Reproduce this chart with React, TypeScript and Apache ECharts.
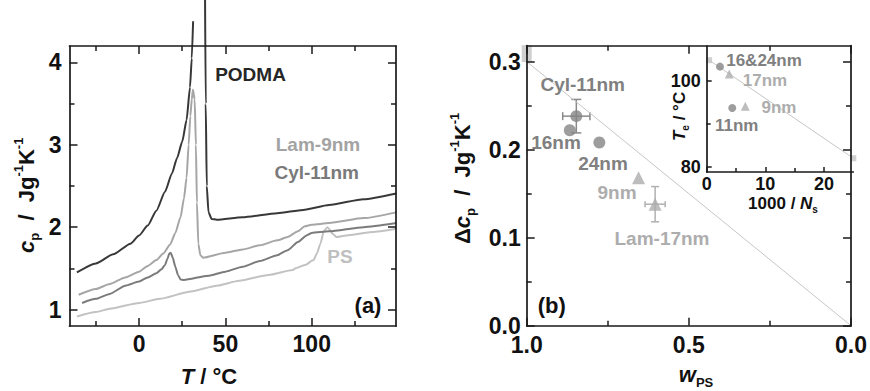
import React, { useEffect, useRef } from "react";
import * as echarts from "echarts";

// (a) DSC traces: [T / °C, cp / J g^-1 K^-1]
const podmaRise = [
  [-36, 1.45], [-25, 1.56], [-15, 1.67], [-5, 1.8], [0, 1.9], [5, 2.02], [10, 2.2],
  [15, 2.43], [19, 2.65], [22, 2.84], [25, 3.04], [27.5, 3.3], [29.5, 3.7], [30.5, 4.05], [31.3, 4.5],
];
const podmaDrop = [
  [38.2, 4.8], [38.6, 3.5], [39.2, 2.5], [40.2, 2.18], [42, 2.1], [45, 2.09], [60, 2.12],
  [80, 2.17], [95, 2.21], [110, 2.27], [130, 2.34], [149, 2.41],
];
const lam9Trace = [
  [-35, 1.18], [-25, 1.25], [-17, 1.31], [-8, 1.39], [0, 1.46], [5, 1.53], [10, 1.6], [14, 1.68],
  [18, 1.79], [21, 1.93], [24, 2.12], [26, 2.35], [27.5, 2.6], [28.7, 3.0], [29.7, 3.35], [30.5, 3.55],
  [31.2, 3.67], [32.2, 3.55], [32.9, 3.0], [33.5, 2.3], [34.3, 1.8], [35.5, 1.66], [37, 1.63],
  [50, 1.69], [60, 1.73], [70, 1.78], [80, 1.84], [86, 1.88], [92, 1.95], [96, 2.01], [100, 2.03],
  [110, 2.05], [130, 2.11], [149, 2.18],
];
const cyl11Trace = [
  [-33, 1.08], [-25, 1.13], [-17, 1.19], [-8, 1.29], [0, 1.34], [5, 1.39], [10, 1.44], [13, 1.49],
  [15, 1.54], [16.5, 1.62], [17.5, 1.68], [18.3, 1.69], [19.5, 1.63], [21, 1.52], [22.5, 1.42],
  [24, 1.365], [26, 1.36], [40, 1.41], [50, 1.46], [60, 1.52], [70, 1.59], [80, 1.66], [86, 1.72],
  [92, 1.82], [97, 1.9], [100, 1.93], [110, 1.95], [130, 2.0], [149, 2.05],
];
const psTrace = [
  [-36, 0.915], [-25, 0.97], [-17, 1.01], [0, 1.08], [12, 1.13], [30, 1.22], [45, 1.29], [58, 1.35],
  [75, 1.42], [89, 1.48], [90.5, 1.5], [96, 1.54], [101, 1.6], [103, 1.68], [105, 1.8], [107, 1.95],
  [109, 2.0], [110.5, 1.97], [112, 1.92], [114.5, 1.88], [120, 1.9], [135, 1.94], [149, 1.98],
];

// (b) Δcp against PS weight fraction
const psBulk = [[1.0, 0.309]];
const cylPoints = [[0.847, 0.238], [0.867, 0.222], [0.776, 0.208]];
const lamPoints = [[0.655, 0.168], [0.604, 0.138]];
const additivityLine = [[1, 0.3], [0, 0]];
// [w, Δcp, ±w, ±Δcp]
const cylErrors = [[0.847, 0.238, 0.042, 0.019]];
const lamErrors = [[0.604, 0.138, 0.031, 0.02]];

// inset: Tg against 1000 / Ns
const insetSquares = [[0.4, 104.8], [25, 82]];
const insetCircles = [[2.27, 103.3], [4.36, 93.7]];
const insetTriangles = [[3.85, 101.6], [6.58, 94.1]];
const insetFit = [[0, 105.2], [25, 82]];

// tick positions
const tempTicks = [0, 50, 100];
const tempMinor = [-25, 25, 75, 125];
const cpTicks = [1, 2, 3, 4];
const cpMinor = [1.5, 2.5, 3.5];
const wTicks = [1, 0.5, 0];
const wMinor = [0.75, 0.25];
const dcpTicks = [0, 0.1, 0.2, 0.3];
const dcpMinor = [0.05, 0.15, 0.25];
const nsTicks = [0, 10, 20];
const nsMinor = [5, 15];
const tgTicks = [80, 100];
const tgMinor = [90];

const FONT = "'Liberation Sans', Arial, Helvetica, sans-serif";
const AXIS = "#1a1a1a";
const DARK = "#383838";
const MID = "#7b7b7b";
const LIGHT = "#a6a6a6";
const PALE = "#c2c2c2";
const NB = "\u00A0";

type AxisCfg = {
  inverse?: boolean;
  fmt?: (v: number) => string;
  margin?: number;
  fontSize?: number;
  lineHeight?: number;
  major?: number;
  minor?: number;
  mirror?: boolean;
};

function frameAxes(kind: "x" | "y", gridIndex: number, min: number, max: number,
  majors: number[], minors: number[], cfg: AxisCfg) {
  const near = kind === "x" ? "bottom" : "left";
  const far = kind === "x" ? "top" : "right";
  const major = cfg.major ?? 8;
  const minor = cfg.minor ?? 5;
  const mk = (pos: string, ticks: number[], len: number, line: boolean, labels: boolean) => ({
    type: "value",
    gridIndex,
    min,
    max,
    position: pos,
    inverse: !!cfg.inverse,
    splitLine: { show: false },
    axisLine: { show: line, onZero: false, lineStyle: { color: AXIS, width: 1.7 } },
    axisTick: {
      show: true, inside: true, length: len, customValues: ticks,
      lineStyle: { color: AXIS, width: 1.5 },
    },
    axisLabel: labels
      ? {
        show: true, customValues: majors, formatter: cfg.fmt, margin: cfg.margin ?? 7,
        color: "#111", fontSize: cfg.fontSize ?? 23, lineHeight: cfg.lineHeight ?? 16,
        fontWeight: "bold", fontFamily: FONT,
      }
      : { show: false },
    z: 5,
  });
  const list: any[] = [mk(near, majors, major, true, true), mk(near, minors, minor, false, false)];
  if (cfg.mirror !== false) {
    list.push(mk(far, majors, major, true, false), mk(far, minors, minor, false, false));
  }
  return list;
}

function lineSeries(data: number[][], color: string, axis: number, width = 2, smooth: number | boolean = false) {
  return {
    type: "line", data, xAxisIndex: axis, yAxisIndex: axis, symbol: "none", showSymbol: false,
    smooth, smoothMonotone: "x",
    lineStyle: { color, width }, itemStyle: { color }, clip: false, z: 3,
  };
}

function scatterSeries(data: number[][], color: string, axis: number, symbol: string, size: any) {
  return {
    type: "scatter", data, xAxisIndex: axis, yAxisIndex: axis, symbol, symbolSize: size,
    itemStyle: { color }, clip: false, z: 4,
  };
}

function errorSeries(data: number[][], color: string, axis: number, capV: number, capH: number) {
  return {
    type: "custom", data, xAxisIndex: axis, yAxisIndex: axis, encode: { x: 0, y: 1 }, z: 3,
    renderItem: (_p: any, api: any) => {
      const x = api.value(0), y = api.value(1), ex = api.value(2), ey = api.value(3);
      const l = api.coord([x - ex, y]);
      const r = api.coord([x + ex, y]);
      const b = api.coord([x, y - ey]);
      const t = api.coord([x, y + ey]);
      const style = { stroke: color, lineWidth: 1.5 };
      const seg = (x1: number, y1: number, x2: number, y2: number) =>
        ({ type: "line", shape: { x1, y1, x2, y2 }, style });
      return {
        type: "group",
        children: [
          seg(l[0], l[1], r[0], r[1]),
          seg(l[0], l[1] - capH, l[0], l[1] + capH),
          seg(r[0], r[1] - capH, r[0], r[1] + capH),
          seg(b[0], b[1], t[0], t[1]),
          seg(b[0] - capV, b[1], b[0] + capV, b[1]),
          seg(t[0] - capV, t[1], t[0] + capV, t[1]),
        ],
      };
    },
  };
}

function label(text: string, x: number, y: number, color: string, size = 19) {
  return {
    type: "text", x, y, z: 10,
    style: {
      text, fill: color, fontSize: size, fontWeight: "bold", fontFamily: FONT,
      align: "center", verticalAlign: "middle",
    },
  };
}

function richStyles(size: number) {
  const small = Math.round(size * 0.6);
  const lh = Math.round(size * 1.3);
  const base = { fontSize: size, fontWeight: "bold", fontFamily: FONT, fill: "#111", lineHeight: lh };
  return {
    n: { ...base },
    i: { ...base, fontStyle: "italic" },
    sup: { fontSize: small, fontWeight: "bold", fontFamily: FONT, fill: "#111", lineHeight: small + 2, verticalAlign: "top" },
    sub: { fontSize: small, fontWeight: "bold", fontFamily: FONT, fill: "#111", lineHeight: small + 2, verticalAlign: "bottom" },
  };
}

// horizontal name, centred on (x, y)
function axisName(text: string, x: number, y: number, size: number) {
  return {
    type: "text", x, y, z: 10,
    style: { text, rich: richStyles(size), align: "center", verticalAlign: "middle" },
  };
}

// vertical name reading upwards, starting at (x, y)
function axisNameUp(text: string, x: number, y: number, size: number) {
  return {
    type: "text", x, y, z: 10, rotation: Math.PI / 2,
    style: { text, rich: richStyles(size), align: "left", verticalAlign: "middle" },
  };
}

const int = (v: number) => String(Math.round(v));
const one = (v: number) => v.toFixed(1);

export default function App() {
  const ref = useRef<HTMLDivElement>(null);

  useEffect(() => {
    if (!ref.current) return;
    const chart = echarts.init(ref.current, undefined, { renderer: "svg" });

    const xAxis = [
      ...frameAxes("x", 0, -40.3, 148.8, tempTicks, tempMinor, { fmt: int, margin: 10 }),
      ...frameAxes("x", 1, 0, 1, wTicks, wMinor, { fmt: one, margin: 11, inverse: true }),
      ...frameAxes("x", 2, 0, 25, nsTicks, nsMinor, { fmt: int, margin: 5, fontSize: 18, lineHeight: 14, major: 5, minor: 4, mirror: false }),
    ];
    const yAxis = [
      ...frameAxes("y", 0, 0.8, 4.2, cpTicks, cpMinor, { fmt: int, margin: 8 }),
      ...frameAxes("y", 1, 0, 0.318, dcpTicks, dcpMinor, { fmt: one, margin: 6 }),
      ...frameAxes("y", 2, 78.8, 108.1, tgTicks, tgMinor, { fmt: int, margin: 6, fontSize: 18, lineHeight: 14, major: 5, minor: 4, mirror: false }),
    ];
    const A = 0, B = 4, C = 8;

    chart.setOption({
      animation: false,
      backgroundColor: "#fff",
      textStyle: { fontFamily: FONT },
      grid: [
        { left: 69.5, top: 46, width: 326.5, height: 280 },
        { left: 526.7, top: 45.7, width: 326.6, height: 280 },
        { left: 706.7, top: 46, width: 146.6, height: 126 },
      ],
      xAxis,
      yAxis,
      series: [
        lineSeries(psTrace, PALE, A, 2, 0.2),
        lineSeries(cyl11Trace, MID, A, 2, 0.2),
        lineSeries(lam9Trace, LIGHT, A, 2, 0.2),
        lineSeries(podmaRise, DARK, A, 2, 0.2),
        lineSeries(podmaDrop, DARK, A, 2, 0.2),

        lineSeries(additivityLine, "#c6c6c6", B, 1),
        scatterSeries(psBulk, "#c4c4c4", B, "rect", [10, 17]),
        errorSeries(cylErrors, "#8a8a8a", B, 5, 4),
        errorSeries(lamErrors, "#b0b0b0", B, 4, 3),
        scatterSeries(cylPoints, "#858585", B, "circle", 12),
        scatterSeries(lamPoints, "#adadad", B, "triangle", 13),

        lineSeries(insetFit, "#c6c6c6", C, 1),
        scatterSeries(insetSquares, "#c4c4c4", C, "rect", 6),
        scatterSeries(insetCircles, "#858585", C, "circle", 8),
        scatterSeries(insetTriangles, "#adadad", C, "triangle", 9),
      ],
      graphic: [
        label("PODMA", 250.5, 74, "#262626"),
        label("Lam-9nm", 318, 144.3, "#a3a3a3"),
        label("Cyl-11nm", 316.7, 172.7, "#7a7a7a"),
        label("PS", 340, 256, "#c0c0c0"),
        label("(a)", 368, 305, "#111", 22),

        label("Cyl-11nm", 582.7, 84, "#808080"),
        label("16nm", 556, 142.7, "#808080"),
        label("24nm", 603, 163, "#808080"),
        label("9nm", 617, 192.7, "#adadad"),
        label("Lam-17nm", 662, 238, "#adadad"),
        label("(b)", 551.7, 305, "#111", 22),

        label("16&24nm", 764, 60, "#808080", 17),
        label("17nm", 765, 80, "#adadad", 17),
        label("9nm", 779, 107, "#adadad", 17),
        label("11nm", 736.7, 125.3, "#808080", 17),

        axisName(`{i|T}{n|${NB}/${NB}°C}`, 209, 376, 22),
        axisName("{i|w}{sub|PS}", 696, 374, 22),
        axisName(`{n|1000${NB}/${NB}}{i|N}{sub|s}`, 783, 203, 17),
        axisNameUp(`{i|c}{sub|p}{n|${NB}${NB}/${NB}${NB}Jg}{sup|-1}{n|K}{sup|-1}`, 26, 253, 22),
        axisNameUp(`{n|Δ}{i|c}{sub|p}{n|${NB}${NB}/${NB}${NB}Jg}{sup|-1}{n|K}{sup|-1}`, 462, 244, 22),
        axisNameUp(`{i|T}{sub|e}{n|${NB}/${NB}°C}`, 679, 141, 17),
      ],
    });

    return () => chart.dispose();
  }, []);

  return (
    <div
      ref={ref}
      style={{ position: "absolute", left: 0, top: 0, width: 870, height: 391, background: "#fff" }}
    />
  );
}
